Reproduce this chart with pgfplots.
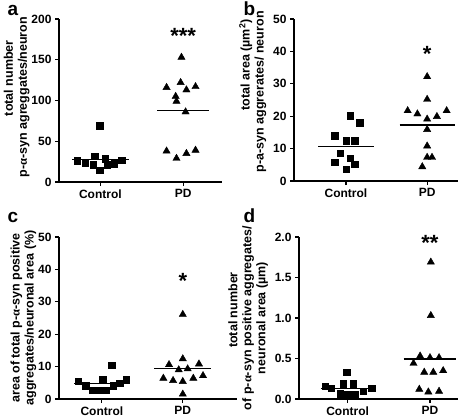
\documentclass[border=0pt]{standalone}
\usepackage{pgfplots}
\pgfplotsset{compat=1.18}
\usepackage{fontspec}
\setmainfont{Liberation Sans}
\newfontfamily\symfont{Liberation Serif}
\newcommand{\al}{{\symfont α}}

\pgfplotsset{
  panel/.style={
    scale only axis,
    axis lines*=left,
    axis line style={line width=1.2bp},
    tick style={line width=1.2bp, black},
    tick align=outside,
    major tick length=4bp,
    xtick={0,1},
    xticklabels={Control,PD},
    ymin=0,
    clip=false,
    anchor=south west,
    ticklabel style={font=\fontsize{12bp}{14bp}\selectfont\bfseries},
    /pgf/number format/assume math mode=true,
    ylabel style={font=\fontsize{12.5bp}{14bp}\selectfont\bfseries, align=center},
  },
  ctrl/.style={only marks, mark=square*, mark size=3.2bp, black},
  pd/.style={only marks, mark=triangle*, mark size=4.2bp, black},
  mline/.style={no marks, line width=1.2bp, black},
}
\tikzset{sigstar/.style={font=\fontsize{22bp}{22bp}\selectfont\bfseries, anchor=center},
  letter/.style={anchor=base west, font=\fontsize{19bp}{19bp}\selectfont\bfseries}}

\begin{document}
\begin{tikzpicture}
\useasboundingbox (0,0) rectangle (472bp,-417bp);

% ---------- a ----------
\begin{axis}[panel, at={(59bp,-182bp)}, width=163bp, height=163bp,
  xmin=-0.5, xmax=1.47, ymax=200, ytick={0,50,100,150,200},
  ylabel={\hspace*{38bp}total number\\p-\al-syn agreggates/neuron},
  ylabel shift=-5bp,
  ylabel style={at={(ticklabel cs:0.52)}}]
\addplot[ctrl] coordinates {(-0.01,69) (-0.28,25.9) (-0.18,23.9) (-0.07,31.7) (-0.09,21.4) (0.06,28.8) (-0.01,14.4) (0.08,21.4) (0.17,22.7) (0.26,26.7)};
\addplot[pd] coordinates {(0.98,153) (0.8,116) (0.97,122) (1.04,113) (1.15,117) (0.91,105) (0.92,99) (1.03,86) (0.8,38) (0.92,29) (1.04,35) (1.15,39)};
\addplot[mline] coordinates {(-0.34,27.5) (0.34,27.5)};
\addplot[mline] coordinates {(0.69,88) (1.31,88)};
\node[sigstar] at (axis cs:1,179) {***};
\end{axis}

% ---------- b ----------
\begin{axis}[panel, at={(294bp,-181bp)}, width=164bp, height=162bp,
  xmin=-0.64, xmax=1.38, ymax=50, ytick={0,10,20,30,40,50},
  ylabel={\hspace*{54bp}total area (µm\textsuperscript{2})\\p-a-syn aggrerates/ neuron},
  ylabel style={at={(ticklabel cs:0.55)}}]
\addplot[ctrl] coordinates {(0.05,20.2) (0.17,18) (-0.14,14) (0,12.4) (0.11,12.4) (-0.07,8.5) (0.05,7) (-0.14,5.8) (0.11,5.2) (0,3.6)};
\addplot[pd] coordinates {(1,32.2) (1,25.2) (0.76,21.7) (0.88,20.7) (1,19.1) (1.12,19.9) (1.24,21.7) (1,15.9) (1,10.8) (1,7.3) (1.06,7.3) (0.94,4.4)};
\addplot[mline] coordinates {(-0.34,10.7) (0.34,10.7)};
\addplot[mline] coordinates {(0.66,17.3) (1.34,17.3)};
\node[sigstar] at (axis cs:1,39.1) {*};
\end{axis}

% ---------- c ----------
\begin{axis}[panel, at={(59bp,-399bp)}, width=178bp, height=162bp,
  xmin=-0.53, xmax=1.67, ymax=50, ytick={0,10,20,30,40,50},
  ylabel shift=-5bp,
  ylabel={area of total p-\al-syn positive\\aggregates/neuronal area (\%)}]
\addplot[ctrl] coordinates {(0.12,10.5) (-0.29,5.5) (-0.2,4.1) (-0.12,2.8) (-0.04,2.8) (0.01,6.2) (0.05,2.8) (0.14,4.1) (0.22,4.9) (0.3,5.9)};
\addplot[pd] coordinates {(1,26.1) (1,12.4) (0.83,10.6) (1.2,10.8) (0.95,9) (1.06,9.3) (0.76,6.4) (0.88,5.7) (1,5.4) (1.13,6.4) (1.25,7.2) (1,1.5)};
\addplot[mline] coordinates {(-0.34,4.9) (0.34,4.9)};
\addplot[mline] coordinates {(0.65,9.3) (1.35,9.3)};
\node[sigstar] at (axis cs:1,36.4) {*};
\end{axis}

% ---------- d ----------
\begin{axis}[panel, at={(299bp,-399bp)}, width=159bp, height=162bp,
  xmin=-0.59, xmax=1.34, ymax=2, ytick={0,0.5,1,1.5,2},
  yticklabel style={/pgf/number format/.cd, fixed, fixed zerofill, precision=1},
  ylabel={\hspace*{16bp}total number\\of p-\al-syn positive aggregates/\\neuronal area (µm)}]
\addplot[ctrl] coordinates {(-0.01,0.334) (-0.27,0.16) (-0.2,0.136) (-0.05,0.19) (0.07,0.19) (-0.09,0.067) (0,0.054) (0.09,0.054) (0.19,0.095) (0.29,0.136)};
\addplot[pd] coordinates {(1.01,1.69) (1.01,1.03) (0.88,0.53) (0.8,0.44) (1,0.51) (1.11,0.51) (0.93,0.33) (1.04,0.33) (1.16,0.35) (0.87,0.12) (0.98,0.087) (1.11,0.095)};
\addplot[mline] coordinates {(-0.32,0.13) (0.32,0.13)};
\addplot[mline] coordinates {(0.68,0.495) (1.32,0.495)};
\node[sigstar] at (axis cs:1,1.93) {**};
\end{axis}

% panel letters
\node[letter] at (4bp,-15.5bp) {a};
\node[letter] at (240bp,-15.5bp) {b};
\node[letter] at (4bp,-222bp) {c};
\node[letter] at (240bp,-222bp) {d};
\end{tikzpicture}
\end{document}
